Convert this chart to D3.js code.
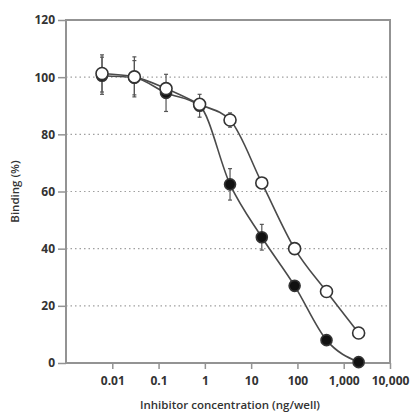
<!DOCTYPE html>
<html>
<head>
<meta charset="utf-8">
<script src="https://cdn.jsdelivr.net/npm/d3@7"></script>
<style>
  body { margin: 0; background: #fff; }
  svg { display: block; font-family: "Open Sans", "Noto Sans", sans-serif; }
</style>
</head>
<body>
<svg id="chart" width="414" height="414"></svg>
<script>
// concentrations (ng/well)
const conc = [0.006, 0.03, 0.145, 0.77, 3.5, 17, 87, 425, 2100];
// open circles
const openVals = [101.3, 100.1, 96, 90.5, 85, 63, 40, 25, 10.5];
const openErr = [6.5, 7, 2, 2, 2.5, 1.5, 1, 1, 1];
// filled circles
const filledVals = [100.5, 99.8, 94.5, 90, 62.5, 44, 27, 8, 0.3];
const filledErr = [6.5, 6, 6.5, 4, 5.5, 4.5, 1, 1, 1];

const xTicks = [0.01, 0.1, 1, 10, 100, 1000, 10000];
const yTicks = [0, 20, 40, 60, 80, 100, 120];

const svg = d3.select("#chart");
const plotL = 66, plotR = 390, plotT = 20, plotB = 363;

const x = d3.scaleLog().domain([0.001, 10000]).range([plotL, plotR]);
const y = d3.scaleLinear().domain([0, 120]).range([plotB, plotT]);

const ink = "#333";
const frame = "#939393";

// dotted grid lines
svg.append("g")
  .selectAll("line")
  .data(yTicks.filter(d => d > 0 && d < 120))
  .join("line")
  .attr("x1", plotL).attr("x2", plotR)
  .attr("y1", d => y(d)).attr("y2", d => y(d))
  .attr("stroke", "#a0a0a0")
  .attr("stroke-width", 1.2)
  .attr("stroke-dasharray", "1.5 3");

// frame
svg.append("rect")
  .attr("x", plotL).attr("y", plotT)
  .attr("width", plotR - plotL).attr("height", plotB - plotT)
  .attr("fill", "none")
  .attr("stroke", frame)
  .attr("stroke-width", 2);

// axes
const fmt = d => d >= 1000 ? d3.format(",")(d) : String(d);
const xAxis = svg.append("g")
  .attr("transform", `translate(0,${plotB})`)
  .call(d3.axisBottom(x).tickValues(xTicks).tickFormat(fmt).tickSize(6).tickPadding(7));
const yAxis = svg.append("g")
  .attr("transform", `translate(${plotL},0)`)
  .call(d3.axisLeft(y).tickValues(yTicks).tickSize(8).tickPadding(3));

[xAxis, yAxis].forEach(g => {
  g.select(".domain").remove();
  g.selectAll(".tick line").attr("stroke", frame).attr("stroke-width", 1.5);
  g.selectAll(".tick text")
    .attr("fill", ink)
    .style("font-size", "12px")
    .style("font-weight", 700)
    .style("font-family", "'Open Sans', sans-serif");
});

// axis titles
svg.append("text")
  .attr("x", 230).attr("y", 409)
  .attr("text-anchor", "middle")
  .attr("fill", ink)
  .style("font-size", "11.5px")
  .style("font-weight", 600)
  .text("Inhibitor concentration (ng/well)");

svg.append("text")
  .attr("transform", `translate(19,${(plotT + plotB) / 2}) rotate(-90)`)
  .attr("text-anchor", "middle")
  .attr("fill", ink)
  .style("font-size", "11.5px")
  .style("font-weight", 600)
  .text("Binding (%)");

const series = [
  { vals: filledVals, err: filledErr, fill: "#111", r: 5.5 },
  { vals: openVals, err: openErr, fill: "#fff", r: 6 }
];

const line = d3.line()
  .x(d => x(d[0]))
  .y(d => y(d[1]))
  .curve(d3.curveMonotoneX);

series.forEach(s => {
  const pts = conc.map((c, i) => [c, s.vals[i], s.err[i]]);

  svg.append("path")
    .datum(pts)
    .attr("d", line)
    .attr("fill", "none")
    .attr("stroke", "#4a4a4a")
    .attr("stroke-width", 1.6);

  const eb = svg.append("g").selectAll("g").data(pts).join("g");
  eb.append("line")
    .attr("x1", d => x(d[0])).attr("x2", d => x(d[0]))
    .attr("y1", d => y(d[1] - d[2])).attr("y2", d => y(d[1] + d[2]))
    .attr("stroke", "#555").attr("stroke-width", 1.2);
  ["-", "+"].forEach(sg => {
    eb.append("line")
      .attr("x1", d => x(d[0]) - 2).attr("x2", d => x(d[0]) + 2)
      .attr("y1", d => y(sg === "+" ? d[1] + d[2] : d[1] - d[2]))
      .attr("y2", d => y(sg === "+" ? d[1] + d[2] : d[1] - d[2]))
      .attr("stroke", "#555").attr("stroke-width", 1.2);
  });
});

series.forEach(s => {
  svg.append("g")
    .selectAll("circle")
    .data(conc.map((c, i) => [c, s.vals[i]]))
    .join("circle")
    .attr("cx", d => x(d[0]))
    .attr("cy", d => y(d[1]))
    .attr("r", s.r)
    .attr("fill", s.fill)
    .attr("stroke", "#333")
    .attr("stroke-width", 1.6);
});
</script>
</body>
</html>
